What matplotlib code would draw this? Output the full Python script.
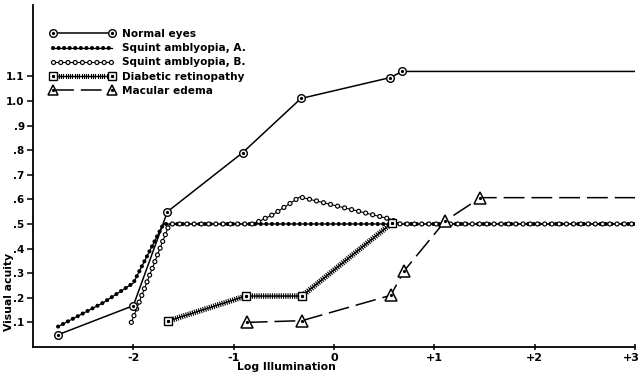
import matplotlib
matplotlib.use("Agg")
import matplotlib.pyplot as plt
import matplotlib.patheffects as pe
import matplotlib.transforms as mtransforms
from matplotlib.legend_handler import HandlerTuple
from matplotlib.lines import Line2D

plt.rcParams['lines.scale_dashes'] = False
plt.rcParams['font.family'] = ['DejaVu Sans']

# ---- data (log illumination, visual acuity) ----
normal_x = [-2.75, -2.0, -1.66, -0.91, -0.33, 0.56, 0.68, 3.0]
normal_y = [0.05, 0.168, 0.55, 0.79, 1.01, 1.095, 1.12, 1.12]
normal_mark_x = [-2.75, -2.0, -1.66, -0.91, -0.33, 0.56, 0.68]
normal_mark_y = [0.05, 0.168, 0.55, 0.79, 1.01, 1.095, 1.12]

squintA_x = [-2.75, -2.3, -2.0, -1.7, 3.0]
squintA_y = [0.083, 0.18, 0.26, 0.50, 0.50]

squintB_x = [-2.02, -1.64, -0.8, -0.6, -0.34, 0.56, 0.66, 3.0]
squintB_y = [0.10, 0.50, 0.50, 0.54, 0.61, 0.52, 0.50, 0.50]

diab_x = [-1.65, -0.88, -0.32, 0.58]
diab_y = [0.106, 0.207, 0.207, 0.505]

mac_x = [-0.87, -0.32, 0.565, 0.70, 1.11, 1.46, 3.0]
mac_y = [0.10, 0.107, 0.21, 0.31, 0.513, 0.607, 0.607]
mac_mark_x = [-0.87, -0.32, 0.565, 0.70, 1.11, 1.46]
mac_mark_y = [0.10, 0.107, 0.21, 0.31, 0.513, 0.607]

labels = ["Normal eyes", "Squint amblyopia, A.", "Squint amblyopia, B.",
          "Diabetic retinopathy", "Macular edema"]

yticks = [0.1, 0.2, 0.3, 0.4, 0.5, 0.6, 0.7, 0.8, 0.9, 1.0, 1.1]
yticklabels = [".1", ".2", ".3", ".4", ".5", ".6", ".7", ".8", ".9", "1.0", "1.1"]
xticks = [-2, -1, 0, 1, 2, 3]
xticklabels = ["-2", "-1", "0", "+1", "+2", "+3"]

fig = plt.figure(figsize=(6.41, 3.79), dpi=100)
ax = fig.add_axes([33/641, 1-347/379, (635-33)/641, (347-5)/379])
ax.set_xlim(-3, 3)
ax.set_ylim(0, 1.39)

k = 'black'
A_STYLE = dict(color=k, lw=3.0, ls=(0, (0.01, 4.0)), dash_capstyle='round')
B_OUT = dict(color=k, lw=3.8, ls=(0, (0.01, 5.2)), dash_capstyle='round')
B_IN = dict(color='white', lw=2.1, ls=(0, (0.01, 5.2)), dash_capstyle='round')
ticked = [pe.TickedStroke(spacing=1.6, angle=90, length=1.0, linewidth=0.8),
          pe.TickedStroke(spacing=1.6, angle=-90, length=1.0, linewidth=0.8), pe.Normal()]
MAC_LS = (0, (15, 5))

# Normal eyes
ax.plot(normal_x, normal_y, color=k, lw=1.1, zorder=5)
ax.plot(normal_mark_x, normal_mark_y, ls='none', marker='o', ms=5.5,
        mfc='white', mec=k, mew=1.0, zorder=6)
ax.plot(normal_mark_x, normal_mark_y, ls='none', marker='o', ms=1.3,
        mfc=k, mec=k, zorder=7)

# Squint A (dense filled dots)
ax.plot(squintA_x, squintA_y, color=k, lw=0.9, zorder=3)
ax.plot(squintA_x, squintA_y, zorder=3, **A_STYLE)

# Squint B (dense open circles)
ax.plot(squintB_x, squintB_y, color=k, lw=0.8, zorder=4)
ax.plot(squintB_x, squintB_y, zorder=4, **B_OUT)
ax.plot(squintB_x, squintB_y, zorder=4, **B_IN)

# Diabetic retinopathy (hatched line)
ax.plot(diab_x, diab_y, color=k, lw=1.0, zorder=4, path_effects=ticked)
ax.plot(diab_x, diab_y, ls='none', marker='s', ms=5.5, mfc='white',
        mec=k, mew=1.0, zorder=6)
ax.plot(diab_x, diab_y, ls='none', marker='s', ms=1.3, mfc=k, mec=k, zorder=7)

# Macular edema (long dashes, triangles)
ax.plot(mac_x, mac_y, color=k, lw=1.1, ls=MAC_LS, zorder=5)
ax.plot(mac_mark_x, mac_mark_y, ls='none', marker='^', ms=8, mfc='white',
        mec=k, mew=1.1, zorder=6)
ax.plot(mac_mark_x, mac_mark_y, ls='none', marker='o', ms=1.3, mfc=k,
        mec=k, zorder=7)

# legend handles
hn = (Line2D([], [], color=k, lw=1.1),
      Line2D([], [], ls='none', marker='o', ms=5.5, mfc='white', mec=k, mew=1.0),
      Line2D([], [], ls='none', marker='o', ms=1.3, mfc=k, mec=k))
ha = (Line2D([], [], color=k, lw=0.9), Line2D([], [], **A_STYLE))
hb = (Line2D([], [], color=k, lw=0.8), Line2D([], [], **B_OUT), Line2D([], [], **B_IN))
hd = (Line2D([], [], color=k, lw=1.0, path_effects=ticked),
      Line2D([], [], ls='none', marker='s', ms=5.5, mfc='white', mec=k, mew=1.0),
      Line2D([], [], ls='none', marker='s', ms=1.3, mfc=k, mec=k))
hm = (Line2D([], [], color=k, lw=1.1, ls=MAC_LS),
      Line2D([], [], ls='none', marker='^', ms=7, mfc='white', mec=k, mew=1.1),
      Line2D([], [], ls='none', marker='o', ms=1.3, mfc=k, mec=k))

leg = ax.legend([hn, ha, hb, hd, hm], labels, handler_map={tuple: HandlerTuple(ndivide=1)},
                loc='upper left', bbox_to_anchor=(50/641, 1-29/379),
                bbox_transform=fig.transFigure, frameon=False, borderpad=0,
                borderaxespad=0, numpoints=2, handlelength=6.2, handletextpad=0.6,
                labelspacing=0.40, prop={'size': 7.6, 'weight': 'bold'})

ax.spines['top'].set_visible(False)
ax.spines['right'].set_visible(False)
ax.spines['left'].set_linewidth(1.3)
ax.spines['bottom'].set_linewidth(1.3)

ax.set_yticks(yticks)
ax.set_yticklabels(yticklabels, fontsize=7.5, fontweight='bold')
ax.set_xticks(xticks)
ax.set_xticklabels(xticklabels, fontsize=8, fontweight='bold')
ax.tick_params(axis='y', direction='out', length=4, width=1.1, pad=2)
ax.tick_params(axis='x', direction='inout', length=5, width=1.1, pad=2)
last = ax.get_xticklabels()[-1]
last.set_horizontalalignment('right')
last.set_transform(last.get_transform() + mtransforms.ScaledTranslation(5/100, 0, fig.dpi_scale_trans))

ax.set_xlabel("Log Illumination", fontsize=7.8, fontweight='bold')
ax.xaxis.set_label_coords((286-33)/602, -0.045)
ax.set_ylabel("Visual acuity", fontsize=7.8, fontweight='bold')
ax.yaxis.set_label_coords(-0.032, 0.16)

fig.savefig("out.png", dpi=100)
